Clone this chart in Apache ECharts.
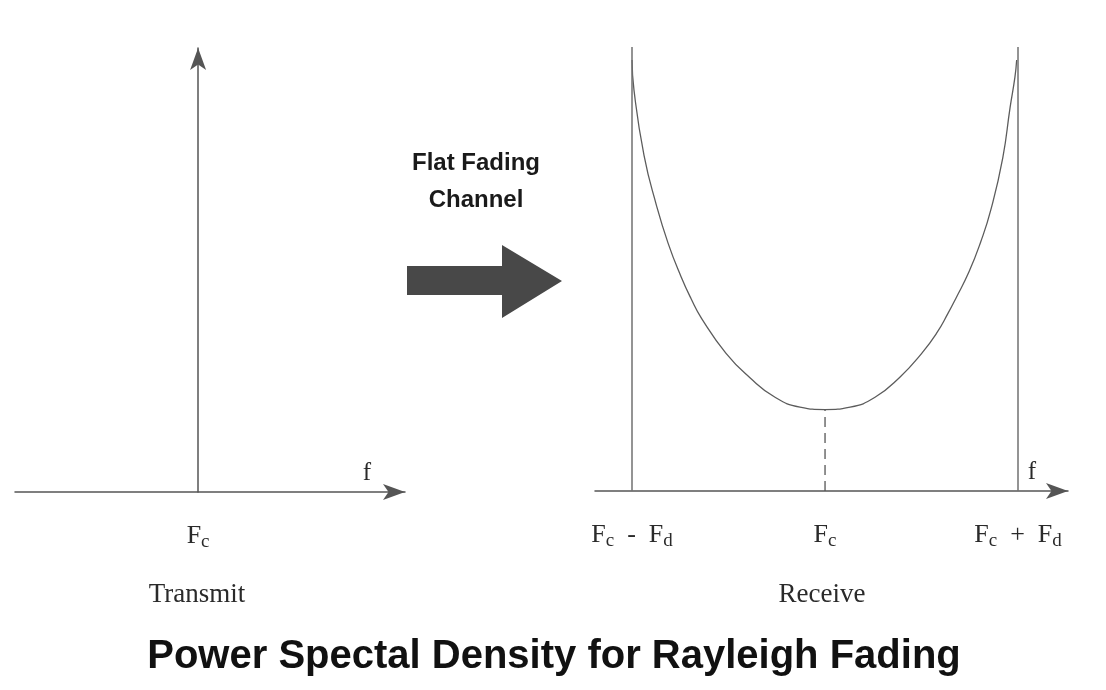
<!DOCTYPE html>
<html>
<head>
<meta charset="utf-8">
<title>Power Spectal Density for Rayleigh Fading</title>
<script src="https://cdn.jsdelivr.net/npm/echarts@6/dist/echarts.min.js"></script>
<style>
  html, body { margin: 0; padding: 0; background: #fff; }
  #chart { width: 1106px; height: 690px; }
</style>
</head>
<body>
<div id="chart"></div>
<script>
// frequency offset from the carrier, in units of Fd
const txFreq = [0]
const rxTicks = [-1, 0, 1]
const txLabels = { '0': 'Fc' }
const rxLabels = { '-1': 'Fc - Fd', '0': 'Fc', '1': 'Fc + Fd' }

// received spectrum (relative power, 1 = value at Fc)
const psdFreq = [-1.0, -0.990, -0.938, -0.874, -0.813, -0.746, -0.694, -0.640, -0.513, -0.389, -0.259, -0.130, 0,
  0.130, 0.259, 0.389, 0.501, 0.579, 0.637, 0.679, 0.746, 0.807, 0.859, 0.921, 0.959, 0.984, 0.993]
const psdPower = [5.29, 4.92, 4.12, 3.51, 3.04, 2.63, 2.36, 2.12, 1.69, 1.39, 1.15, 1.03, 1.0,
  1.03, 1.15, 1.40, 1.69, 1.94, 2.18, 2.37, 2.69, 3.06, 3.45, 4.09, 4.71, 5.08, 5.29]
const dopplerEdges = [-1, 1]

const serif = 'Liberation Serif, Times New Roman, serif'
const sans = 'Liberation Sans, Arial, sans-serif'
const lineColor = '#555'

const subRich = {
  m: { fontSize: 26, fontFamily: serif, color: '#2a2a2a' },
  s: { fontSize: 19, fontFamily: serif, color: '#2a2a2a', padding: [13, 0, 0, 0] }
}
const fmtLabel = (table) => (val) => {
  const txt = table[String(Math.round(val))]
  if (!txt) return ''
  return txt.split(' ').map(part => {
    if (part.length === 2 && part[0] === 'F') return '{m|F}{s|' + part[1] + '}'
    return '{m|  ' + part + '  }'
  }).join('')
}

const chart = echarts.init(document.getElementById('chart'))

const arrowLine = { color: lineColor, width: 1.5 }
const fName = { fontFamily: serif, fontSize: 25, color: '#2a2a2a', align: 'center', verticalAlign: 'bottom', padding: [0, 0, 6, 0] }

const option = {
  animation: false,
  title: [
    { text: 'Flat Fading\nChannel', left: 471, top: 140, textAlign: 'center',
      textStyle: { fontFamily: sans, fontWeight: 'bold', fontSize: 24, lineHeight: 37, color: '#1a1a1a' } },
    { text: 'Transmit', left: 192, top: 576, textAlign: 'center',
      textStyle: { fontFamily: serif, fontWeight: 'normal', fontSize: 27, color: '#2a2a2a' } },
    { text: 'Receive', left: 817, top: 576, textAlign: 'center',
      textStyle: { fontFamily: serif, fontWeight: 'normal', fontSize: 27, color: '#2a2a2a' } },
    { text: 'Power Spectal Density for Rayleigh Fading', left: 549, top: 632, textAlign: 'center',
      textStyle: { fontFamily: sans, fontWeight: 'bold', fontSize: 40, color: '#111' } }
  ],
  grid: [
    { left: 15, right: 701, top: 48, bottom: 198 },
    { left: 595, right: 38, top: 47, bottom: 199 }
  ],
  xAxis: [
    {
      gridIndex: 0, type: 'value', min: -1, max: 1.13,
      name: 'f', nameLocation: 'end', nameGap: -38, nameTextStyle: fName,
      axisLine: { onZero: true, symbol: ['none', 'arrow'], symbolSize: [12, 22], lineStyle: arrowLine },
      axisTick: { show: false },
      splitLine: { show: false },
      axisLabel: { customValues: txFreq, margin: 28, formatter: fmtLabel(txLabels), rich: subRich }
    },
    {
      gridIndex: 1, type: 'value', min: -1.192, max: 1.259,
      name: 'f', nameLocation: 'end', nameGap: -36, nameTextStyle: fName,
      axisLine: { onZero: false, symbol: ['none', 'arrow'], symbolSize: [12, 22], lineStyle: arrowLine },
      axisTick: { show: false },
      splitLine: { show: false },
      axisLabel: { customValues: rxTicks, margin: 28, formatter: fmtLabel(rxLabels), rich: subRich }
    }
  ],
  yAxis: [
    {
      gridIndex: 0, type: 'value', min: 0, max: 1,
      axisLine: { show: true, onZero: true, symbol: ['none', 'arrow'], symbolSize: [12, 22], lineStyle: arrowLine },
      axisTick: { show: false },
      axisLabel: { show: false },
      splitLine: { show: false }
    },
    {
      gridIndex: 1, type: 'value', min: 0, max: 5.45,
      show: false
    }
  ],
  series: [
    {
      name: 'Received PSD',
      type: 'line',
      xAxisIndex: 1, yAxisIndex: 1,
      data: psdFreq.map((f, i) => [f, psdPower[i]]),
      smooth: 0.5,
      symbol: 'none',
      lineStyle: { color: '#5c5c5c', width: 1.3 },
      markLine: {
        silent: true,
        symbol: 'none',
        label: { show: false },
        lineStyle: { color: '#707070', width: 1.5, type: 'solid' },
        data: dopplerEdges.map(x => ({ xAxis: x }))
      }
    },
    {
      name: 'Carrier',
      type: 'line',
      xAxisIndex: 1, yAxisIndex: 1,
      data: [[0, 0], [0, psdPower[psdFreq.indexOf(0)]]],
      symbol: 'none',
      lineStyle: { color: '#555', width: 1.3, type: [10, 6] }
    }
  ],
  graphic: [
    {
      type: 'polygon',
      shape: { points: [[407, 266], [502, 266], [502, 245], [562, 281], [502, 318], [502, 295], [407, 295]] },
      style: { fill: '#484848' }
    }
  ]
}

chart.setOption(option)
</script>
</body>
</html>
